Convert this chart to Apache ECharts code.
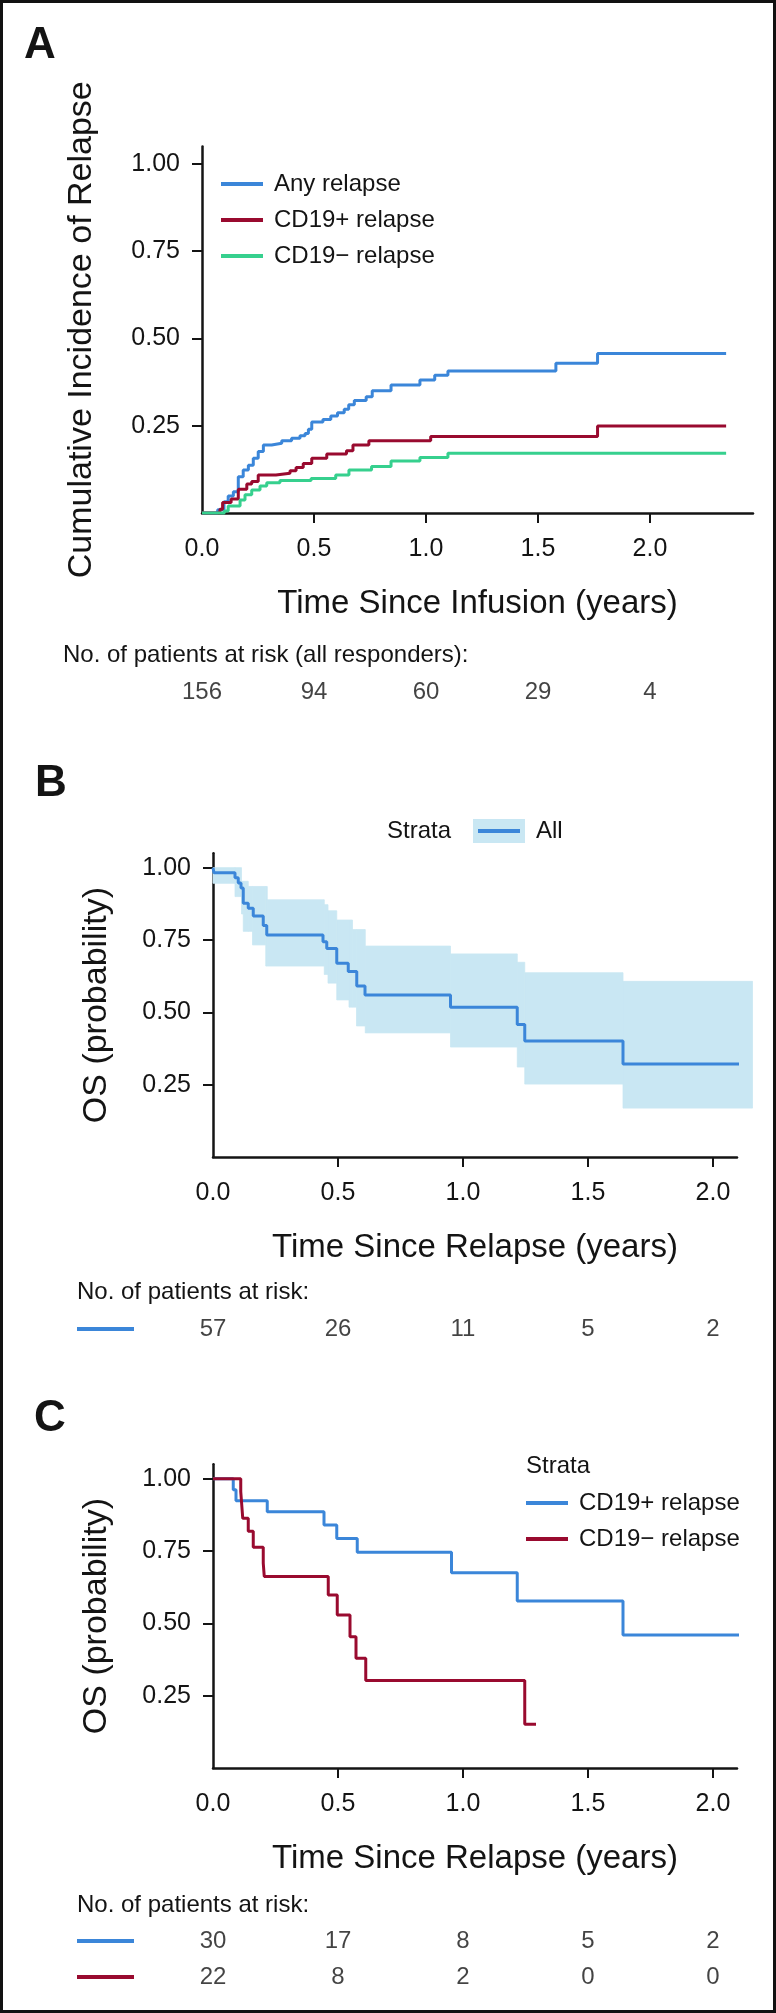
<!DOCTYPE html>
<html><head><meta charset="utf-8">
<script src="https://cdn.jsdelivr.net/npm/echarts@6/dist/echarts.min.js"></script>
<style>html,body{margin:0;padding:0;background:#fff}#c{width:776px;height:2013px}</style>
</head><body><div id="c"></div><script>
// ---------- Panel A: cumulative incidence of relapse ----------
const anyT  = [0, 0.07, 0.098, 0.117, 0.14, 0.162, 0.184, 0.207, 0.229, 0.251, 0.274, 0.311, 0.356, 0.40, 0.4375, 0.46, 0.475, 0.49, 0.54, 0.575, 0.605, 0.635, 0.655, 0.68, 0.733, 0.76, 0.844, 0.973, 1.039, 1.098, 1.58, 1.766, 2.34];
const anyY  = [0, 0.009, 0.032, 0.049, 0.061, 0.104, 0.123, 0.137, 0.157, 0.176, 0.195, 0.200, 0.207, 0.214, 0.221, 0.228, 0.240, 0.261, 0.268, 0.278, 0.287, 0.297, 0.310, 0.322, 0.333, 0.350, 0.367, 0.381, 0.395, 0.407, 0.429, 0.457, 0.457];
const posT  = [0, 0.08, 0.092, 0.13, 0.162, 0.20, 0.222, 0.251, 0.33, 0.393, 0.42, 0.452, 0.49, 0.557, 0.645, 0.674, 0.745, 1.021, 1.766, 2.34];
const posY  = [0, 0.011, 0.030, 0.040, 0.068, 0.083, 0.090, 0.109, 0.114, 0.121, 0.130, 0.142, 0.157, 0.169, 0.178, 0.195, 0.207, 0.219, 0.249, 0.249];
const negT  = [0, 0.10, 0.117, 0.17, 0.192, 0.222, 0.259, 0.289, 0.348, 0.487, 0.597, 0.656, 0.757, 0.844, 0.973, 1.098, 2.34];
const negY  = [0, 0.006, 0.020, 0.037, 0.052, 0.066, 0.077, 0.087, 0.093, 0.099, 0.109, 0.123, 0.133, 0.149, 0.159, 0.171, 0.171];
const seriesNamesA = ['Any relapse', 'CD19+ relapse', 'CD19\u2212 relapse'];

// ---------- Panel B: OS since relapse, all ----------
const osAllT = [0, 0.004, 0.088, 0.101, 0.112, 0.121, 0.141, 0.161, 0.201, 0.215, 0.44, 0.455, 0.495, 0.541, 0.575, 0.608, 0.95, 1.217, 1.247, 1.64, 2.158];
const osAllY = [1.0, 0.982, 0.965, 0.947, 0.93, 0.877, 0.86, 0.833, 0.80, 0.767, 0.744, 0.721, 0.67, 0.641, 0.591, 0.56, 0.518, 0.458, 0.401, 0.321, 0.321];
const bandT     = [0, 0.088, 0.114, 0.121, 0.141, 0.158, 0.211, 0.217, 0.445, 0.46, 0.495, 0.544, 0.558, 0.574, 0.609, 0.95, 1.217, 1.247, 1.64, 2.158];
const bandUpper = [1.0, 1.0, 0.953, 0.953, 0.935, 0.935, 0.935, 0.889, 0.872, 0.851, 0.819, 0.819, 0.786, 0.786, 0.729, 0.702, 0.673, 0.637, 0.607, 0.607];
const bandLower = [0.946, 0.90, 0.84, 0.78, 0.78, 0.733, 0.66, 0.66, 0.631, 0.601, 0.543, 0.518, 0.518, 0.453, 0.429, 0.38, 0.311, 0.252, 0.169, 0.169];

// ---------- Panel C: OS by relapse type ----------
const cPosT = [0, 0.081, 0.092, 0.217, 0.444, 0.495, 0.577, 0.954, 1.217, 1.64, 2.158];
const cPosY = [1.0, 0.962, 0.924, 0.886, 0.84, 0.793, 0.746, 0.675, 0.577, 0.46, 0.46];
const cNegT = [0, 0.111, 0.115, 0.119, 0.141, 0.161, 0.201, 0.205, 0.461, 0.497, 0.548, 0.572, 0.611, 1.247, 1.292];
const cNegY = [1.0, 0.955, 0.909, 0.863, 0.818, 0.763, 0.708, 0.662, 0.598, 0.529, 0.454, 0.379, 0.302, 0.151, 0.151];

// ---------- tick labels / at-risk tables ----------
const xTickVals = [0, 0.5, 1.0, 1.5, 2.0];
const yTickVals = [0.25, 0.5, 0.75, 1.0];
const riskTimes = [0, 0.5, 1.0, 1.5, 2.0];
const riskA = [156, 94, 60, 29, 4];
const riskB = [57, 26, 11, 5, 2];
const riskCpos = [30, 17, 8, 5, 2];
const riskCneg = [22, 8, 2, 0, 0];

const FONT = "'Liberation Sans', Arial, Helvetica, sans-serif";
const INK = '#141414';
const BLUE = '#3b86d9', RED = '#990a2f', GREEN = '#36d08e', BAND = '#c9e7f3';

const zip = (t, v) => t.map((x, i) => [x, v[i]]);

function xAx(grid, max, name, nameGap) {
  return {
    type: 'value', gridIndex: grid, min: 0, max: max, interval: 0.5,
    axisLine: { show: true, onZero: false, lineStyle: { color: INK, width: 2.5 } },
    axisTick: { show: true, length: 10, customValues: xTickVals.slice(1), lineStyle: { color: INK, width: 2 } },
    axisLabel: { customValues: xTickVals, formatter: v => v.toFixed(1), margin: 24, fontSize: 25, color: INK, fontFamily: FONT },
    splitLine: { show: false },
    name: name, nameLocation: 'middle', nameGap: nameGap,
    nameTextStyle: { fontSize: 33, color: INK, fontFamily: FONT }
  };
}
function yAx(grid, name, nameGap) {
  return {
    type: 'value', gridIndex: grid, min: 0, max: 1.05, interval: 0.25,
    axisLine: { show: true, onZero: false, lineStyle: { color: INK, width: 2.5 } },
    axisTick: { show: true, length: 10, customValues: yTickVals, lineStyle: { color: INK, width: 2 } },
    axisLabel: { customValues: yTickVals, formatter: v => v.toFixed(2), margin: 22, fontSize: 25, color: INK, fontFamily: FONT },
    splitLine: { show: false },
    name: name, nameLocation: 'middle', nameGap: nameGap, nameRotate: 90,
    nameTextStyle: { fontSize: 34, color: INK, fontFamily: FONT }
  };
}
function hiddenX(grid, max) { return { type: 'value', gridIndex: grid, min: 0, max: max, show: false }; }
function hiddenY(grid, cats) { return { type: 'category', gridIndex: grid, data: cats, inverse: true, show: false }; }

function stepLine(name, t, v, color, xi, z) {
  return {
    type: 'line', name: name, xAxisIndex: xi, yAxisIndex: xi, data: zip(t, v),
    step: 'end', showSymbol: false, symbol: 'none', clip: false, z: z || 3,
    lineStyle: { color: color, width: 3 }, itemStyle: { color: color }
  };
}
function riskSeries(xi, rowName, counts) {
  return {
    type: 'scatter', xAxisIndex: xi, yAxisIndex: xi, symbolSize: 1,
    itemStyle: { color: 'rgba(0,0,0,0)' },
    data: riskTimes.map((t, i) => [t, rowName, counts[i]]),
    label: { show: true, position: 'inside', formatter: p => String(p.value[2]), fontSize: 24, color: INK, fontFamily: FONT }
  };
}

const legendCommon = {
  orient: 'vertical', icon: 'rect', itemWidth: 42, itemHeight: 4, itemGap: 12, selectedMode: false, padding: 0,
  textStyle: { fontSize: 24, color: INK, fontFamily: FONT, padding: [0, 0, 0, 6] }
};

// confidence band: one step rectangle per interval
const bandData = bandT.slice(0, -1).map((t, i) => [t, bandT[i + 1], bandLower[i], bandUpper[i]]);

const option = {
  animation: false,
  backgroundColor: '#fff',
  grid: [
    { left: 202, top: 146.5, width: 551, height: 366.5 },
    { left: 213, top: 853.2, width: 524, height: 303.8 },
    { left: 213, top: 1464.2, width: 524, height: 303.8 },
    { left: 202, top: 680, width: 551, height: 24 },
    { left: 213, top: 1317, width: 524, height: 24 },
    { left: 213, top: 1923, width: 524, height: 72 }
  ],
  xAxis: [
    xAx(0, 2.46, 'Time Since Infusion (years)', 74),
    xAx(1, 2.096, 'Time Since Relapse (years)', 74),
    xAx(2, 2.096, 'Time Since Relapse (years)', 74),
    hiddenX(3, 2.46), hiddenX(4, 2.096), hiddenX(5, 2.096)
  ],
  yAxis: [
    yAx(0, 'Cumulative Incidence of Relapse', 103),
    yAx(1, 'OS (probability)', 99),
    yAx(2, 'OS (probability)', 99),
    hiddenY(3, ['all']), hiddenY(4, ['all']), hiddenY(5, ['pos', 'neg'])
  ],
  legend: [
    Object.assign({}, legendCommon, { data: seriesNamesA, left: 221, top: 172 }),
    Object.assign({}, legendCommon, { data: ['All'], left: 478, top: 819,
      textStyle: { fontSize: 24, color: INK, fontFamily: FONT, padding: [0, 0, 0, 11] } }),
    Object.assign({}, legendCommon, { data: ['C: CD19+ relapse', 'C: CD19\u2212 relapse'], left: 526, top: 1491,
      formatter: n => n.replace('C: ', '') })
  ],
  series: [
    stepLine(seriesNamesA[0], anyT, anyY, BLUE, 0),
    stepLine(seriesNamesA[1], posT, posY, RED, 0),
    stepLine(seriesNamesA[2], negT, negY, GREEN, 0),
    {
      type: 'custom', name: 'band', xAxisIndex: 1, yAxisIndex: 1, z: 1, clip: false,
      data: bandData, encode: { x: [0, 1], y: [2, 3] },
      renderItem: function (params, api) {
        const p0 = api.coord([api.value(0), api.value(3)]);
        const p1 = api.coord([api.value(1), api.value(2)]);
        return {
          type: 'rect',
          shape: { x: p0[0], y: p0[1], width: p1[0] - p0[0], height: p1[1] - p0[1] },
          style: { fill: BAND, stroke: BAND, lineWidth: 0.8 }
        };
      }
    },
    stepLine('All', osAllT, osAllY, BLUE, 1),
    stepLine('C: CD19+ relapse', cPosT, cPosY, BLUE, 2),
    stepLine('C: CD19\u2212 relapse', cNegT, cNegY, RED, 2),
    riskSeries(3, 'all', riskA),
    riskSeries(4, 'all', riskB),
    riskSeries(5, 'pos', riskCpos),
    riskSeries(5, 'neg', riskCneg)
  ],
  graphic: [
    { type: 'rect', shape: { x: 1.5, y: 1.5, width: 773, height: 2010 }, style: { fill: 'none', stroke: '#111', lineWidth: 3 }, z: 100 },
    { type: 'text', x: 24, y: 46, style: { text: 'A', font: "bold 44px " + FONT, fill: INK, textVerticalAlign: 'middle' } },
    { type: 'text', x: 35, y: 784, style: { text: 'B', font: "bold 44px " + FONT, fill: INK, textVerticalAlign: 'middle' } },
    { type: 'text', x: 34, y: 1419, style: { text: 'C', font: "bold 44px " + FONT, fill: INK, textVerticalAlign: 'middle' } },
    { type: 'text', x: 63, y: 655, style: { text: 'No. of patients at risk (all responders):', font: "24px " + FONT, fill: INK, textVerticalAlign: 'middle' } },
    { type: 'text', x: 77, y: 1292, style: { text: 'No. of patients at risk:', font: "24px " + FONT, fill: INK, textVerticalAlign: 'middle' } },
    { type: 'text', x: 77, y: 1905, style: { text: 'No. of patients at risk:', font: "24px " + FONT, fill: INK, textVerticalAlign: 'middle' } },
    { type: 'text', x: 387, y: 831, style: { text: 'Strata', font: "24px " + FONT, fill: INK, textVerticalAlign: 'middle' } },
    { type: 'text', x: 526, y: 1466, style: { text: 'Strata', font: "24px " + FONT, fill: INK, textVerticalAlign: 'middle' } },
    { type: 'rect', shape: { x: 473, y: 819, width: 52, height: 24 }, style: { fill: BAND }, z: 0 },
    { type: 'line', shape: { x1: 77, y1: 1329, x2: 134, y2: 1329 }, style: { stroke: BLUE, lineWidth: 4 } },
    { type: 'line', shape: { x1: 77, y1: 1941, x2: 134, y2: 1941 }, style: { stroke: BLUE, lineWidth: 4 } },
    { type: 'line', shape: { x1: 77, y1: 1977, x2: 134, y2: 1977 }, style: { stroke: RED, lineWidth: 4 } }
  ]
};

const chart = echarts.init(document.getElementById('c'), null, { renderer: 'canvas', width: 776, height: 2013 });
chart.setOption(option);
</script></body></html>
